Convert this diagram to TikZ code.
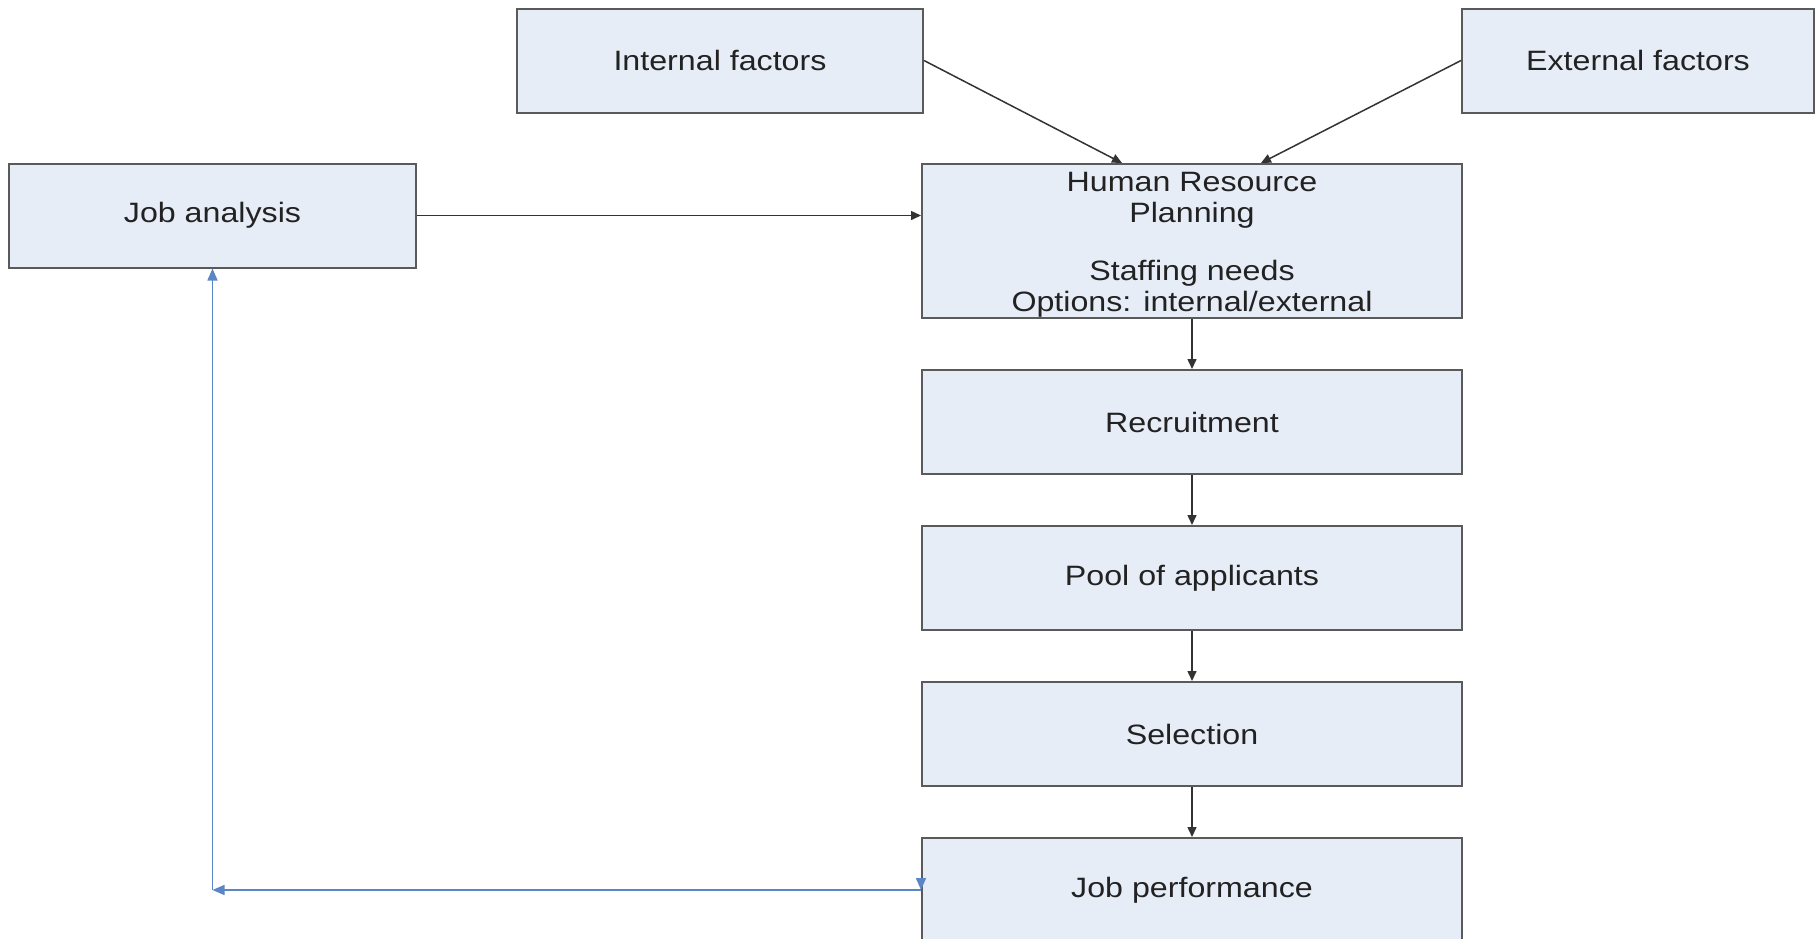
\documentclass[tikz,border=0pt]{standalone}
\usepackage{fontspec}
\setmainfont{Liberation Sans}[FakeStretch=1.15]
\usetikzlibrary{arrows.meta}
\definecolor{boxfill}{HTML}{E7EDF7}
\definecolor{boxline}{HTML}{5A5A5A}
\definecolor{linecol}{HTML}{333333}
\definecolor{fbblue}{HTML}{5B86C5}
\definecolor{textcol}{HTML}{222222}

\begin{document}
\begin{tikzpicture}[x=1pt, y=-1pt,
  box/.style={draw=boxline, fill=boxfill, line width=2pt, minimum width=540pt, minimum height=104pt,
    inner sep=0pt, align=center, text=textcol, font=\fontsize{28}{31}\selectfont},
  link/.style={draw=linecol, line width=1.5pt, -{Triangle[length=10pt,width=9pt]}},
  feedback/.style={draw=fbblue, line width=1.5pt, -{Triangle[length=12pt,width=10pt]}}]
\useasboundingbox (0,0) rectangle (1818,938);
\clip (0,0) rectangle (1818,938);

% Factors and job analysis
\node[box, minimum width=406pt] (internal) at (720,60.5) {Internal factors};
\node[box, minimum width=352pt] (external) at (1638,60.5) {External factors};
\node[box, minimum width=407pt] (jobanalysis) at (212.5,215.5) {Job analysis};

% Main chain
\node[box, minimum height=154pt] (hrp) at (1192,241) {\rule{0pt}{27pt}Human Resource\\Planning\\[27pt]Staffing needs\\Options: internal/external};
\node[box] (recruit) at (1192,422) {Recruitment};
\node[box] (pool) at (1192,578) {Pool of applicants};
\node[box] (select) at (1192,734) {Selection};
\node[box] (perform) at (1192,890) {Job performance};

% Inputs to planning
\draw[link] (internal.east) -- ([xshift=-70pt]hrp.north);
\draw[link] (external.west) -- ([xshift=69pt]hrp.north);
\draw[link] (jobanalysis.east) -- (jobanalysis.east -| hrp.west);

% Chain arrows
\foreach \a/\b in {hrp/recruit, recruit/pool, pool/select, select/perform} {
    \draw[link] (\a.south) -- (\b.north);
}

% Feedback loop
\coordinate (corner) at (jobanalysis.south |- perform.west);
\draw[feedback] (perform.west) -- (corner);
\draw[feedback] (corner) -- (jobanalysis.south);
\draw[feedback] ([yshift=10pt]perform.west) -- (perform.west);
\end{tikzpicture}
\end{document}
